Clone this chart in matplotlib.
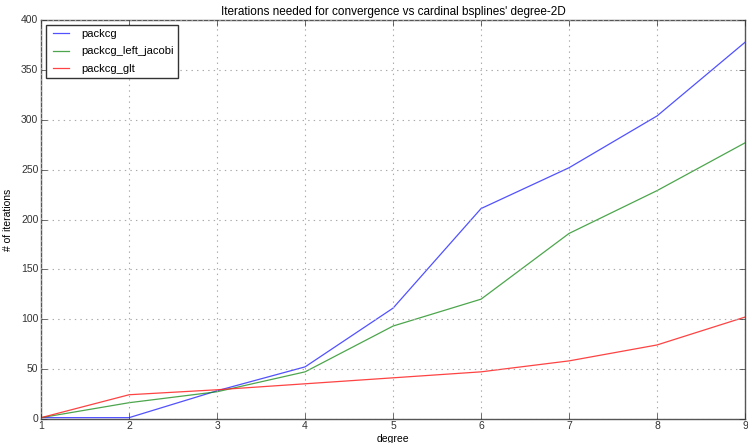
import matplotlib
matplotlib.use("Agg")
import matplotlib.pyplot as plt

degree = [1, 2, 3, 4, 5, 6, 7, 8, 9]
packcg = [1, 1, 28, 52, 111, 211, 252, 304, 378]
packcg_left_jacobi = [1, 16, 27, 47, 93, 120, 186, 229, 277]
packcg_glt = [1, 24, 29, 35, 41, 47, 58, 74, 102]

plt.style.use("classic")
plt.rcParams["font.family"] = ["Liberation Sans", "DejaVu Sans"]

fig = plt.figure(figsize=(7.48, 4.43), dpi=100)
fig.patch.set_facecolor("white")
ax = fig.add_axes([0.055, 0.055, 0.941, 0.899])

ax.plot(degree, packcg, color="#3333ff", lw=0.9, alpha=0.85, label="packcg")
ax.plot(degree, packcg_left_jacobi, color="#118811", lw=0.9, alpha=0.75, label="packcg_left_jacobi")
ax.plot(degree, packcg_glt, color="#ff2222", lw=0.9, alpha=0.85, label="packcg_glt")

ax.set_xlim(1, 9)
ax.set_ylim(0, 400)
ax.grid(True, linestyle=":", color="#aaaaaa", linewidth=0.8)
ax.tick_params(labelsize=7.5, pad=2, colors="#333333")
for sp in ax.spines.values():
    sp.set_color("#555555")

ax.set_title("Iterations needed for convergence vs cardinal bsplines' degree-2D", fontsize=8.5, pad=4)
ax.set_xlabel("degree", fontsize=7.5, labelpad=2)
ax.set_ylabel("# of iterations", fontsize=7.5, labelpad=6)
leg = ax.legend(loc="upper left", fontsize=8, handlelength=2.0, borderaxespad=0.4,
                labelspacing=0.65)
leg.get_frame().set_edgecolor("#333333")

fig.savefig("out.png", dpi=100, facecolor="white")
